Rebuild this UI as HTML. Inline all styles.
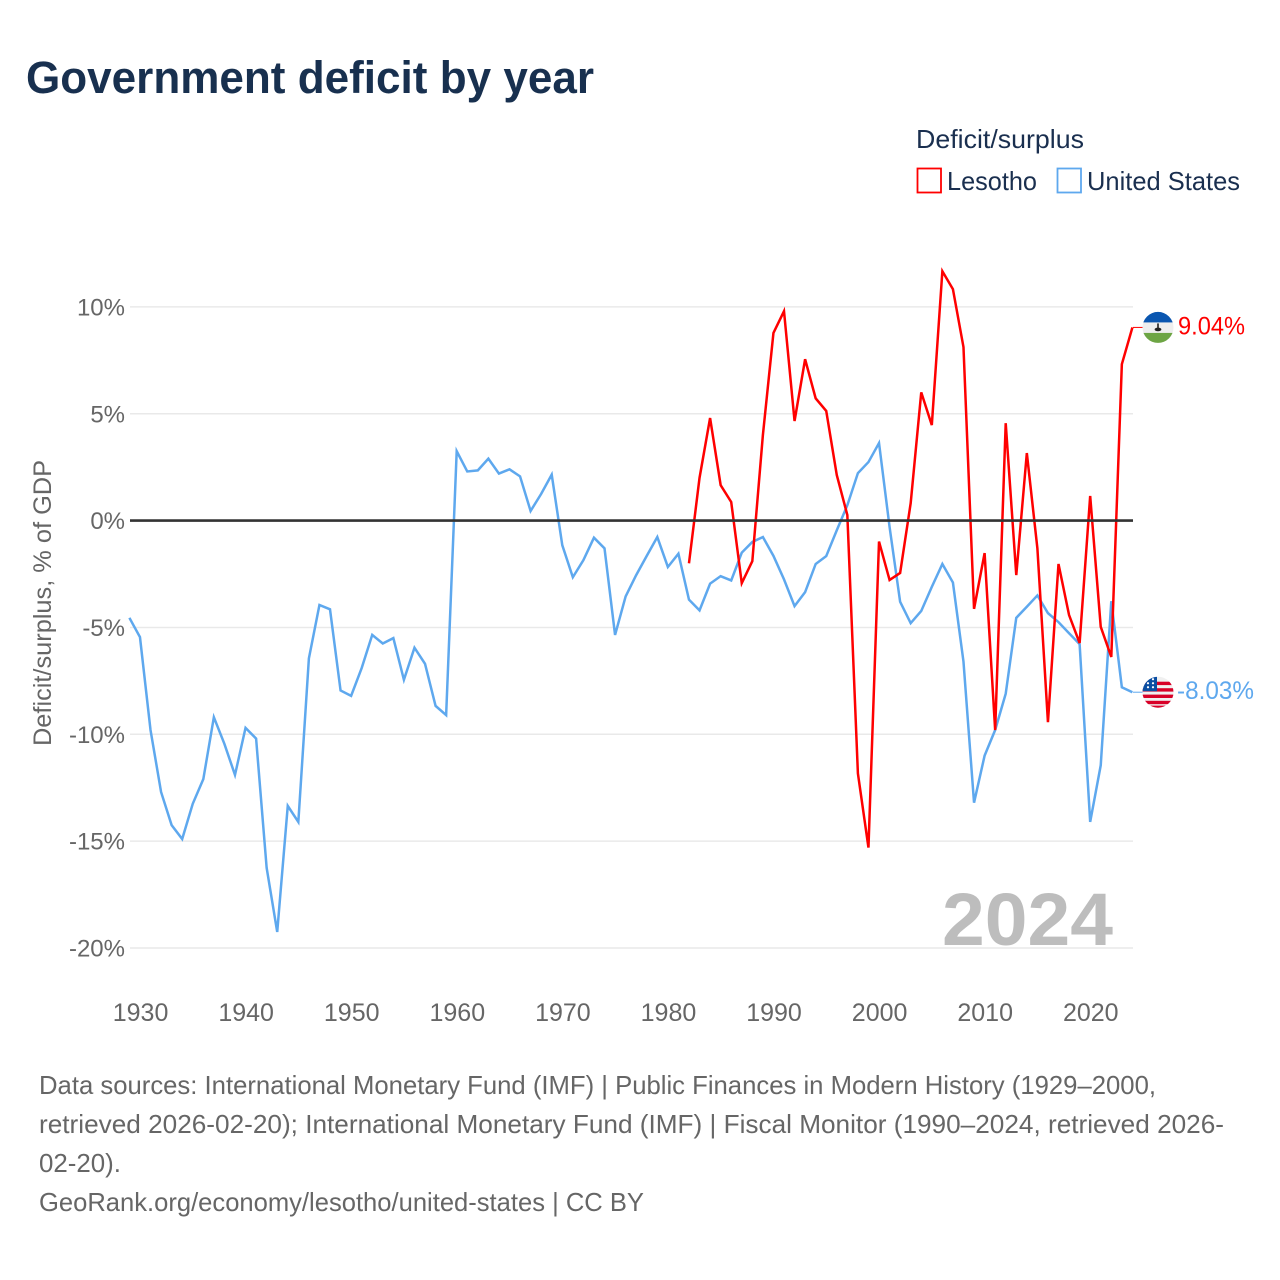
<!DOCTYPE html>
<html lang="en">
<head>
<meta charset="utf-8">
<title>Government deficit by year</title>
<style>
html,body{margin:0;padding:0;background:#fff;width:1280px;height:1280px;overflow:hidden}
svg{display:block;font-family:"Liberation Sans",sans-serif}
</style>
</head>
<body>
<svg id="chart" width="1280" height="1280" viewBox="0 0 1280 1280" xmlns="http://www.w3.org/2000/svg">
  <defs>
    <clipPath id="clip-ls"><circle cx="0" cy="0" r="15.5"/></clipPath>
    <clipPath id="clip-us"><circle cx="0" cy="0" r="15.5"/></clipPath>
  </defs>
  <rect width="1280" height="1280" fill="#fff"/>
  <text x="26" y="93" font-size="45" font-weight="700" fill="#18304f" textLength="568" lengthAdjust="spacingAndGlyphs">Government deficit by year</text>

  <text x="916" y="148" font-size="26" fill="#1a2f4f" textLength="168" lengthAdjust="spacingAndGlyphs">Deficit/surplus</text>
  <g>
    <rect x="917.5" y="168.5" width="23.5" height="24" fill="#fff" stroke="#ff0000" stroke-width="1.8"/>
    <text x="947" y="190" font-size="26" fill="#1a2f4f" textLength="90" lengthAdjust="spacingAndGlyphs">Lesotho</text>
  </g>
  <g>
    <rect x="1057.5" y="168.5" width="23.5" height="24" fill="#fff" stroke="#5ea8ee" stroke-width="1.8"/>
    <text x="1087" y="190" font-size="26" fill="#1a2f4f" textLength="153" lengthAdjust="spacingAndGlyphs">United States</text>
  </g>

  <g id="grid"></g>
  <g id="yticks"></g>
  <g id="xticks"></g>
  <text transform="translate(51 603) rotate(-90)" text-anchor="middle" font-size="25" fill="#666" textLength="286" lengthAdjust="spacingAndGlyphs">Deficit/surplus, % of GDP</text>

  <text x="942" y="945" font-size="74" font-weight="700" fill="#bdbdbd" textLength="171" lengthAdjust="spacingAndGlyphs">2024</text>

  <g id="series"></g>
  <line id="zero" x1="130" x2="1133" stroke="#333" stroke-width="2.6"/>

  <g id="flag-ls">
    <g clip-path="url(#clip-ls)">
      <rect x="-16" y="-16" width="32" height="32" fill="#eeeeee"/>
      <rect x="-16" y="-16" width="32" height="11" fill="#0a56b0"/>
      <rect x="-16" y="5.5" width="32" height="11" fill="#6da544"/>
      <rect x="-0.8" y="-4" width="1.6" height="5" fill="#222"/>
      <ellipse cx="0" cy="2" rx="3.4" ry="1.8" fill="#222"/>
    </g>
  </g>
  <g id="flag-us">
    <g clip-path="url(#clip-us)">
      <rect x="-16" y="-16" width="32" height="32" fill="#f0f0f0"/>
      <rect x="-16" y="-10.5" width="32" height="3.4" fill="#d80027"/>
      <rect x="-16" y="-4" width="32" height="3.4" fill="#d80027"/>
      <rect x="-16" y="2.4" width="32" height="3.4" fill="#d80027"/>
      <rect x="-16" y="8.6" width="32" height="3.4" fill="#d80027"/>
      <rect x="-16" y="13.4" width="32" height="3" fill="#d80027"/>
      <rect x="-16" y="-16" width="15" height="15" fill="#0b4ea2"/>
      <circle cx="-10" cy="-5" r="1.1" fill="#fff"/>
      <circle cx="-5" cy="-5" r="1.1" fill="#fff"/>
      <circle cx="-10" cy="-9" r="1.1" fill="#fff"/>
      <circle cx="-5" cy="-9" r="1.1" fill="#fff"/>
      <circle cx="-5" cy="-13" r="1.1" fill="#fff"/>
    </g>
  </g>
  <text id="label-ls" x="1178" font-size="25" fill="#ff0000" textLength="67" lengthAdjust="spacingAndGlyphs"></text>
  <text id="label-us" x="1177" font-size="25" fill="#5ea8ee" textLength="77" lengthAdjust="spacingAndGlyphs"></text>

  <g fill="#666" font-size="26">
    <text x="39" y="1094" textLength="1117" lengthAdjust="spacingAndGlyphs">Data sources: International Monetary Fund (IMF) | Public Finances in Modern History (1929–2000,</text>
    <text x="39" y="1133" textLength="1185" lengthAdjust="spacingAndGlyphs">retrieved 2026-02-20); International Monetary Fund (IMF) | Fiscal Monitor (1990–2024, retrieved 2026-</text>
    <text x="39" y="1172" textLength="82" lengthAdjust="spacingAndGlyphs">02-20).</text>
    <text x="39" y="1211" textLength="605" lengthAdjust="spacingAndGlyphs">GeoRank.org/economy/lesotho/united-states | CC BY</text>
  </g>
</svg>
<script>
const yTickValues = [10, 5, 0, -5, -10, -15, -20];
const xTickYears = [1930, 1940, 1950, 1960, 1970, 1980, 1990, 2000, 2010, 2020];
const usStartYear = 1929;
const usValues = [
  -4.55, -5.45, -9.8, -12.7, -14.25, -14.9, -13.25, -12.1, -9.2, -10.45, -11.9,
  -9.7, -10.2, -16.25, -19.25, -13.35, -14.1, -6.45, -3.95, -4.15, -7.95,
  -8.2, -6.9, -5.35, -5.75, -5.5, -7.45, -5.95, -6.7, -8.67, -9.1,
  3.25, 2.3, 2.35, 2.9, 2.2, 2.4, 2.07, 0.45, 1.25, 2.15,
  -1.15, -2.65, -1.85, -0.8, -1.3, -5.35, -3.55, -2.55, -1.65, -0.77,
  -2.17, -1.55, -3.7, -4.2, -2.95, -2.6, -2.8, -1.5, -1, -0.77,
  -1.65, -2.75, -4, -3.35, -2.03, -1.66, -0.45, 0.72, 2.22, 2.74,
  3.63, -0.3, -3.8, -4.8, -4.23, -3.1, -2.03, -2.9, -6.6, -13.2,
  -11, -9.8, -8.1, -4.55, -4.03, -3.5, -4.33, -4.75, -5.27, -5.78,
  -14.1, -11.45, -3.77, -7.8, -8.03
];
const lesothoStartYear = 1982;
const lesothoValues = [
  -2, 2, 4.8, 1.66, 0.87, -2.93, -1.9, 4, 8.78,
  9.8, 4.66, 7.55, 5.72, 5.13, 2.13, 0.26, -11.83, -15.3,
  -0.98, -2.78, -2.45, 0.82, 6, 4.47, 11.67, 10.83, 8.12, -4.13,
  -1.52, -9.8, 4.56, -2.55, 3.16, -1.3, -9.43, -2.03, -4.42, -5.73,
  1.15, -4.97, -6.38, 7.32, 9.04
];

const NS = 'http://www.w3.org/2000/svg';
const xScale = function (year) { return 129.4 + (year - 1929) * 10.558; };
const yScale = function (v) { return 520.6 - v * 21.37; };
const flagX = 1158;

function make(tag, attrs, parent) {
  const el = document.createElementNS(NS, tag);
  Object.keys(attrs).forEach(function (k) { el.setAttribute(k, attrs[k]); });
  parent.appendChild(el);
  return el;
}

const grid = document.getElementById('grid');
const yticks = document.getElementById('yticks');
yTickValues.forEach(function (v) {
  if (v !== 0) {
    const line = make('line', { x1: 130, x2: 1133, y1: yScale(v), y2: yScale(v), stroke: '#e9e9e9', 'stroke-width': 1.5 }, grid);
    
    
  }
  const t = make('text', { x: 125, y: yScale(v) + 8.5, 'text-anchor': 'end', 'font-size': 24, fill: '#666' }, yticks);
  t.textContent = v + '%';
  
  
});

const xticks = document.getElementById('xticks');
xTickYears.forEach(function (yr) {
  const t = make('text', { x: xScale(yr) + 0.6, y: 1021, 'text-anchor': 'middle', 'font-size': 25, fill: '#666' }, xticks);
  t.textContent = String(yr);
  
  
});

function pathFor(values, startYear) {
  return values.map(function (v, i) {
    return (i ? 'L' : 'M') + xScale(startYear + i).toFixed(2) + ' ' + yScale(v).toFixed(2);
  }).join(' ');
}

const seriesGroup = document.getElementById('series');
const usLine = make('path', { d: pathFor(usValues, usStartYear), fill: 'none', stroke: '#5ea8ee', 'stroke-width': 2.5, 'stroke-linejoin': 'miter' }, seriesGroup);


const lsLine = make('path', { d: pathFor(lesothoValues, lesothoStartYear), fill: 'none', stroke: '#ff0000', 'stroke-width': 2.5, 'stroke-linejoin': 'miter' }, seriesGroup);



const zero = document.getElementById('zero');
zero.setAttribute('y1', yScale(0));
zero.setAttribute('y2', yScale(0));

const lsLast = lesothoValues[lesothoValues.length - 1];
const usLast = usValues[usValues.length - 1];
const lsEndY = yScale(lsLast);
const usEndY = yScale(usLast);

const lsLead = make('line', { x1: 1133, x2: 1143, y1: lsEndY, y2: lsEndY, stroke: '#ff0000', 'stroke-width': 1 }, seriesGroup);


const usLead = make('line', { x1: 1133, x2: 1143, y1: usEndY, y2: usEndY, stroke: '#5ea8ee', 'stroke-width': 1 }, seriesGroup);



document.getElementById('flag-ls').setAttribute('transform', 'translate(' + flagX + ' ' + lsEndY + ')');
document.getElementById('flag-us').setAttribute('transform', 'translate(' + flagX + ' ' + usEndY + ')');

const labelLs = document.getElementById('label-ls');
labelLs.setAttribute('y', lsEndY + 7);
labelLs.textContent = lsLast.toFixed(2) + '%';
const labelUs = document.getElementById('label-us');
labelUs.setAttribute('y', usEndY + 7);
labelUs.textContent = usLast.toFixed(2) + '%';
</script>
</body>
</html>
